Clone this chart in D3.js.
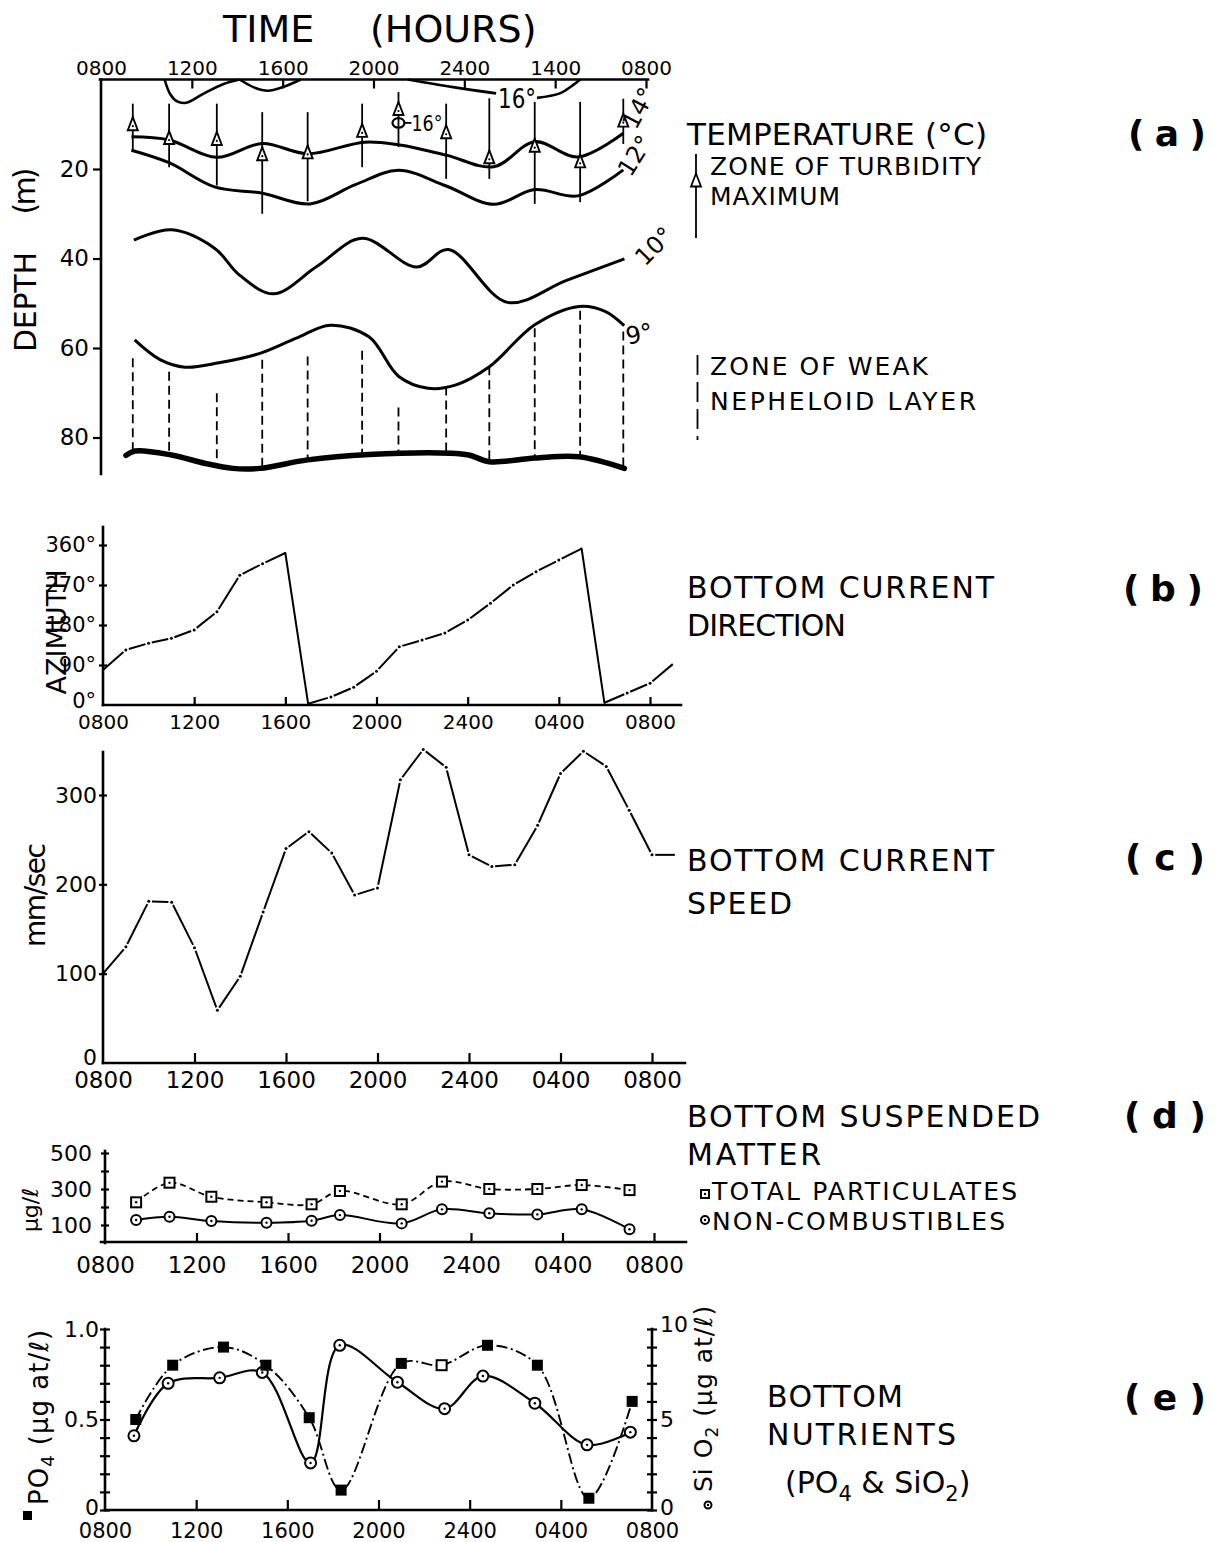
<!DOCTYPE html>
<html>
<head>
<meta charset="utf-8">
<title>Bottom water time series</title>
<script src="https://cdn.jsdelivr.net/npm/d3@7"></script>
<style>
  html, body { margin: 0; padding: 0; background: #fff; }
  svg { display: block; }
  svg text { font-family: "DejaVu Sans", sans-serif; fill: #000; }
</style>
</head>
<body>
<svg id="fig" width="1223" height="1542"></svg>
<script>
// ---------- shared time axis (hours after 0800 on the first day) ----------
const tickHours = [0, 4, 8, 12, 16, 20, 24];
const topTimeLabels = ["0800", "1200", "1600", "2000", "2400", "1400", "0800"];
const timeLabels = ["0800", "1200", "1600", "2000", "2400", "0400", "0800"];

// ---------- (a) temperature section, depth in metres ----------
const depthTicks = [20, 40, 60, 80];
const stationHours = [1.4, 3.0, 5.1, 7.1, 9.1, 11.5, 13.1, 15.2, 17.1, 19.1, 21.1, 23.0];
const turbidityTop = [5.6, 5.6, 5.6, 7.5, 7.5, 5.6, 3.0, 5.6, 4.4, 5.2, 5.2, 4.5];
const turbidityBottom = [15.7, 19.4, 23.5, 29.8, 27.0, 19.4, 14.9, 22.0, 22.0, 27.6, 27.2, 14.2];
const turbidityMax = [10.1, 13.2, 13.4, 16.8, 16.4, 11.6, 6.7, 11.9, 17.5, 14.9, 18.4, 9.3];
const nepheloidTop = [62.3, 65.3, 70.1, 62.6, 61.9, 60.6, 73.3, 68.6, 64.1, 55.6, 51.7, 56.3];
const lens16 = [13.1, 9.7];
const iso16a = [[2.8, 0], [3.05, 3.3], [3.35, 4.9], [3.75, 5.2], [4.5, 3.2], [5.4, 1.0], [6.1, 0]];
const iso16b = [[6.1, 0], [6.8, 1.9], [7.35, 2.5], [8.0, 1.7], [8.8, 0]];
const iso16c = [[13.5, 0], [15.5, 1.7], [17.4, 3.1]];
const iso16d = [[19.2, 4.1], [20.2, 3.1], [20.8, 1.2], [21.1, 0]];
const iso14 = [[1.34, 12.8], [3.0, 13.5], [5.1, 17.4], [7.1, 14.3], [9.1, 16.6], [11.6, 14.0], [13.1, 14.6], [15.2, 16.9], [17.3, 19.5], [19.1, 13.9], [21.0, 17.3], [23.0, 12.0]];
const iso12 = [[1.34, 15.8], [3.0, 18.6], [5.0, 24.0], [7.1, 25.4], [9.2, 27.8], [11.2, 23.5], [13.1, 20.3], [15.2, 23.8], [17.3, 27.9], [19.1, 24.6], [21.0, 26.0], [23.0, 20.2]];
const iso10 = [[1.45, 35.9], [3.1, 33.6], [5.0, 37.7], [6.1, 43.7], [7.6, 47.9], [9.5, 41.8], [11.5, 35.5], [13.9, 41.9], [15.3, 38.0], [17.9, 49.8], [20.5, 44.9], [23.05, 40.1]];
const iso9 = [[1.48, 58.2], [2.6, 62.6], [3.7, 64.3], [5.2, 63.3], [7.0, 61.2], [8.6, 57.8], [10.1, 54.9], [11.8, 57.5], [13.1, 66.3], [14.4, 69.0], [15.6, 68.3], [17.1, 64.2], [19.1, 54.8], [21.05, 50.7], [22.2, 51.8], [23.04, 55.0]];
const seafloor = [[1.1, 84.0], [1.5, 83.0], [3.1, 83.9], [4.6, 85.8], [5.8, 86.9], [7.0, 86.9], [9.1, 85.0], [11.8, 83.8], [15.4, 83.5], [16.2, 83.9], [17.1, 85.4], [19.1, 84.6], [21.05, 84.3], [23.05, 86.9]];

// ---------- (b) bottom current direction, degrees ----------
const azimuthTicks = [0, 90, 180, 270, 360];
const directionRun1 = [[0, 79], [1, 124], [2, 139], [3, 150], [4, 169], [5, 210], [6, 292], [7, 318], [8, 342]];
const directionRun2 = [[9, 3], [10, 18], [11, 40], [12, 76], [13, 131], [14, 146], [15, 162], [16, 191], [17, 229], [18, 270], [19, 300], [20, 326], [21, 352]];
const directionRun3 = [[22, 5], [23, 27], [24, 49], [25, 92]];

// ---------- (c) bottom current speed, mm/sec ----------
const speedTicks = [0, 100, 200, 300];
const speedHours = [0, 1, 2, 3, 4, 5, 6, 7, 8, 9, 10, 11, 12, 13, 14, 15, 16, 17, 18, 19, 20, 21, 22, 23, 24, 25];
const speedValues = [100, 130, 181, 180, 129, 59, 97, 169, 240, 259, 235, 188, 196, 317, 351, 331, 233, 220, 222, 266, 324, 349, 332, 283, 233, 233];

// ---------- (d) bottom suspended matter, µg/l ----------
const matterTicks = [100, 200, 300, 400, 500];
const matterHours = [1.36, 2.82, 4.65, 7.06, 9.03, 10.27, 12.97, 14.73, 16.8, 18.9, 20.84, 22.93];
const totalParticulates = [226, 335, 257, 226, 215, 289, 215, 341, 300, 300, 322, 294];
const nonCombustibles = [128, 146, 122, 113, 124, 155, 109, 187, 165, 159, 187, 76];

// ---------- (e) bottom nutrients ----------
const po4Hours = [1.35, 2.97, 5.2, 7.06, 8.96, 10.36, 13.0, 14.77, 16.78, 18.97, 21.23, 23.13];
const po4Values = [0.50, 0.80, 0.90, 0.80, 0.51, 0.11, 0.81, 0.80, 0.91, 0.80, 0.065, 0.60];
const po4Filled = [1, 1, 1, 1, 1, 1, 1, 0, 1, 1, 1, 1];
const sio2Hours = [1.27, 2.77, 5.03, 6.9, 9.02, 10.3, 12.83, 14.9, 16.58, 18.86, 21.15, 23.05];
const sio2Values = [4.1, 7.0, 7.3, 7.6, 2.6, 9.1, 7.06, 5.6, 7.4, 5.9, 3.6, 4.3];
const po4Ticks = [0, 0.1, 0.2, 0.3, 0.4, 0.5, 0.6, 0.7, 0.8, 0.9, 1.0];
const sio2Ticks = [0, 1, 2, 3, 4, 5, 6, 7, 8, 9, 10];

// ================= drawing helpers =================
const INK = "#000";
const svg = d3.select("#fig");

function rule(g, x1, y1, x2, y2, w = 2.5) {
  return g.append("line").attr("x1", x1).attr("y1", y1).attr("x2", x2).attr("y2", y2)
    .attr("stroke", INK).attr("stroke-width", w).attr("stroke-linecap", "square");
}
function label(g, x, y, str, size, o = {}) {
  const t = g.append("text").attr("x", x).attr("y", y).style("font-size", size + "px").text(str);
  if (o.len) t.attr("textLength", o.len).attr("lengthAdjust", o.adjust || "spacing");
  if (o.anchor) t.attr("text-anchor", o.anchor);
  if (o.bold) t.style("font-weight", "bold");
  return t;
}
function turned(g, x, y, angle, str, size, o = {}) {
  const t = g.append("text").attr("transform", `translate(${x},${y}) rotate(${angle})`)
    .attr("text-anchor", o.anchor || "middle").style("font-size", size + "px").text(str);
  if (o.len) t.attr("textLength", o.len).attr("lengthAdjust", "spacing");
  return t;
}
function fixAxis(sel, size) {
  sel.attr("font-family", null).attr("font-size", null);
  sel.select(".domain").remove();
  sel.selectAll(".tick line").attr("stroke", INK).attr("stroke-width", 2.2);
  sel.selectAll(".tick text").attr("fill", INK).style("font-size", size + "px");
}
function dropTickLine(sel, value) {
  sel.selectAll(".tick").filter(d => d === value).select("line").remove();
}
function shiftTickText(sel, value, dy) {
  sel.selectAll(".tick").filter(d => d === value).select("text").attr("dy", dy);
}
// dash–dot trace: a stroke between successive readings, broken around each reading, with a dot on it
function brokenTrace(g, pts, gap = 3.2) {
  for (let i = 0; i < pts.length - 1; i++) {
    const [x1, y1] = pts[i], [x2, y2] = pts[i + 1];
    const L = Math.hypot(x2 - x1, y2 - y1);
    if (L < 2 * gap + 1) continue;
    const ux = (x2 - x1) / L, uy = (y2 - y1) / L;
    const a = i === 0 ? 0 : gap;
    const b = i === pts.length - 2 ? 0 : gap;
    g.append("line").attr("x1", x1 + ux * a).attr("y1", y1 + uy * a)
      .attr("x2", x2 - ux * b).attr("y2", y2 - uy * b)
      .attr("stroke", INK).attr("stroke-width", 2).attr("stroke-linecap", "butt");
  }
  pts.slice(1, -1).forEach(p => g.append("circle").attr("cx", p[0]).attr("cy", p[1]).attr("r", 1.5).attr("fill", INK));
}
function openSquare(g, x, y, s, dot = true) {
  g.append("rect").attr("x", x - s / 2).attr("y", y - s / 2).attr("width", s).attr("height", s)
    .attr("fill", "#fff").attr("stroke", INK).attr("stroke-width", 2);
  if (dot) g.append("circle").attr("cx", x).attr("cy", y).attr("r", 1.2).attr("fill", INK);
}
function dotCircle(g, x, y, r) {
  g.append("circle").attr("cx", x).attr("cy", y).attr("r", r).attr("fill", "#fff").attr("stroke", INK).attr("stroke-width", 2);
  g.append("circle").attr("cx", x).attr("cy", y).attr("r", 1.2).attr("fill", INK);
}
const smooth = d3.curveCatmullRom.alpha(0.5);

// ================= (a) temperature section =================
const gA = svg.append("g");
const xA = d3.scaleLinear().domain([0, 24]).range([101, 646]);
const yA = d3.scaleLinear().domain([0, 80]).range([79.5, 437.5]);
const lineA = d3.line().x(d => xA(d[0])).y(d => yA(d[1])).curve(smooth);

label(gA, 223, 42, "TIME", 38);
label(gA, 370, 42, "(HOURS)", 38);

rule(gA, 100, 79.5, 648, 79.5, 2.6);
rule(gA, 101, 79.5, 101, 474, 2.6);
gA.append("g").attr("transform", "translate(0,79.5)")
  .call(d3.axisTop(xA).tickValues(tickHours).tickFormat((d, i) => topTimeLabels[i])
    .tickSizeInner(-9).tickSizeOuter(0).tickPadding(5))
  .call(fixAxis, 20).call(dropTickLine, 0);
gA.append("g").attr("transform", "translate(101,0)")
  .call(d3.axisLeft(yA).tickValues(depthTicks).tickSizeInner(8).tickSizeOuter(0).tickPadding(4))
  .call(fixAxis, 23);

turned(gA, 36, 302, -90, "DEPTH", 30, { len: 100 });
turned(gA, 35, 191, -90, "(m)", 30, { len: 47 });

// isotherms
[iso16a, iso16b, iso16c, iso16d].forEach(p =>
  gA.append("path").attr("d", lineA(p)).attr("fill", "none").attr("stroke", INK).attr("stroke-width", 2.6));
[iso14, iso12, iso10, iso9].forEach(p =>
  gA.append("path").attr("d", lineA(p)).attr("fill", "none").attr("stroke", INK)
    .attr("stroke-width", 3).attr("stroke-linejoin", "round"));
gA.append("path").attr("d", lineA(seafloor)).attr("fill", "none").attr("stroke", INK)
  .attr("stroke-width", 5.5).attr("stroke-linecap", "round");

// weak nepheloid layer: dashed verticals down to the sea floor
const floorAt = d3.scaleLinear().domain(seafloor.map(p => p[0])).range(seafloor.map(p => p[1]));
stationHours.forEach((h, i) => {
  gA.append("line").attr("x1", xA(h)).attr("x2", xA(h))
    .attr("y1", yA(nepheloidTop[i])).attr("y2", yA(floorAt(h)))
    .attr("stroke", INK).attr("stroke-width", 1.8).attr("stroke-dasharray", "9,5");
});

// zone of turbidity maximum
stationHours.forEach((h, i) => rule(gA, xA(h), yA(turbidityTop[i]), xA(h), yA(turbidityBottom[i]), 1.8));
gA.append("ellipse").attr("cx", xA(lens16[0])).attr("cy", yA(lens16[1])).attr("rx", 6).attr("ry", 4.8)
  .attr("fill", "none").attr("stroke", INK).attr("stroke-width", 2.2);
rule(gA, xA(lens16[0]) + 6, yA(lens16[1]), xA(lens16[0]) + 12, yA(lens16[1]), 1.8);
label(gA, xA(lens16[0]) + 13, yA(lens16[1]) + 8, "16°", 22, { len: 31, adjust: "spacingAndGlyphs" });

const triPath = "M0,-7.5 L5,5.5 L-5,5.5 Z";
stationHours.forEach((h, i) => {
  const x = xA(h), y = yA(turbidityMax[i]);
  gA.append("path").attr("d", triPath).attr("transform", `translate(${x},${y})`)
    .attr("fill", "#fff").attr("stroke", INK).attr("stroke-width", 1.9).attr("stroke-linejoin", "miter");
  gA.append("circle").attr("cx", x).attr("cy", y + 1.5).attr("r", 1.1).attr("fill", INK);
});

// isotherm labels
label(gA, 498, 108, "16°", 26, { len: 38, adjust: "spacingAndGlyphs" });
turned(gA, 646, 112, -62, "14°", 24);
turned(gA, 642, 160, -58, "12°", 24);
turned(gA, 660, 252, -45, "10°", 24);
turned(gA, 641, 342, -12, "9°", 24);

// legend for (a)
const gL = svg.append("g");
label(gL, 687, 145, "TEMPERATURE (°C)", 31, { len: 300 });
rule(gL, 696, 155, 696, 237, 1.8);
gL.append("path").attr("d", triPath).attr("transform", "translate(696,181)")
  .attr("fill", "#fff").attr("stroke", INK).attr("stroke-width", 1.8);
label(gL, 710, 175, "ZONE OF TURBIDITY", 25, { len: 271 });
label(gL, 710, 205, "MAXIMUM", 25, { len: 130 });
gL.append("line").attr("x1", 697.5).attr("x2", 697.5).attr("y1", 355).attr("y2", 440)
  .attr("stroke", INK).attr("stroke-width", 1.8).attr("stroke-dasharray", "20,7");
label(gL, 710, 375, "ZONE OF WEAK", 25, { len: 218 });
label(gL, 710, 410, "NEPHELOID LAYER", 25, { len: 266 });
label(gL, 1128, 146, "( a )", 36, { len: 78, bold: true });

// ================= (b) bottom current direction =================
const gB = svg.append("g");
const xB = d3.scaleLinear().domain([0, 24]).range([103, 650]);
const yB = d3.scaleLinear().domain([0, 360]).range([705, 545]);
rule(gB, 103, 527, 103, 705, 2.6);
rule(gB, 103, 705, 681, 705, 2.6);
gB.append("g").attr("transform", "translate(0,705)")
  .call(d3.axisBottom(xB).tickValues(tickHours).tickFormat((d, i) => timeLabels[i])
    .tickSizeInner(-8).tickSizeOuter(0).tickPadding(10))
  .call(fixAxis, 20).call(dropTickLine, 0);
gB.append("g").attr("transform", "translate(103,0)")
  .call(d3.axisLeft(yB).tickValues(azimuthTicks).tickFormat(d => d + "°")
    .tickSizeInner(4).tickSizeOuter(0).tickPadding(3))
  .call(fixAxis, 21).call(dropTickLine, 0).call(shiftTickText, 0, "0.12em")
  .call(s => s.selectAll(".tick line").attr("x1", 4));
turned(gB, 66, 632, -90, "AZIMUTH", 27, { len: 125 });

const ptsB = run => run.map(d => [xB(d[0]), yB(d[1])]);
brokenTrace(gB, ptsB(directionRun1));
brokenTrace(gB, ptsB(directionRun2));
brokenTrace(gB, ptsB(directionRun3));
// wrap-around from north back through 0°
[[directionRun1, directionRun2], [directionRun2, directionRun3]].forEach(([a, b]) => {
  const p = a[a.length - 1], q = b[0];
  rule(gB, xB(p[0]), yB(p[1]), xB(q[0]), yB(q[1]), 2).attr("stroke-linecap", "round");
});
label(svg, 687, 598, "BOTTOM CURRENT", 30, { len: 307 });
label(svg, 687, 636, "DIRECTION", 30, { len: 159 });
label(svg, 1123, 601, "( b )", 36, { len: 80, bold: true });

// ================= (c) bottom current speed =================
const gC = svg.append("g");
const xC = d3.scaleLinear().domain([0, 24]).range([103, 652]);
const yC = d3.scaleLinear().domain([0, 300]).range([1063, 795]);
rule(gC, 103, 752, 103, 1063, 2.6);
rule(gC, 103, 1063, 685, 1063, 2.6);
gC.append("g").attr("transform", "translate(0,1063)")
  .call(d3.axisBottom(xC).tickValues(tickHours).tickFormat((d, i) => timeLabels[i])
    .tickSizeInner(-10).tickSizeOuter(0).tickPadding(9))
  .call(fixAxis, 23).call(dropTickLine, 0);
gC.append("g").attr("transform", "translate(103,0)")
  .call(d3.axisLeft(yC).tickValues(speedTicks).tickSizeInner(4).tickSizeOuter(0).tickPadding(2))
  .call(fixAxis, 22).call(dropTickLine, 0).call(shiftTickText, 0, "0.05em")
  .call(s => s.selectAll(".tick line").attr("x1", 4));
turned(gC, 45, 895, -90, "mm/sec", 28, { len: 104 });
brokenTrace(gC, speedHours.map((h, i) => [xC(h), yC(speedValues[i])]));
label(svg, 687, 871, "BOTTOM CURRENT", 30, { len: 307 });
label(svg, 687, 914, "SPEED", 30, { len: 105 });
label(svg, 1125, 870, "( c )", 36, { len: 80, bold: true });

// ================= (d) bottom suspended matter =================
const gD = svg.append("g");
const xD = d3.scaleLinear().domain([0, 24]).range([105, 654]);
const yD = d3.scaleLinear().domain([0, 500]).range([1243, 1153]);
rule(gD, 105, 1151, 105, 1243, 2.6);
rule(gD, 101, 1242, 686, 1242, 2.6);
gD.append("g").attr("transform", "translate(0,1242)")
  .call(d3.axisBottom(xD).tickValues(tickHours).tickFormat((d, i) => timeLabels[i])
    .tickSizeInner(-9).tickSizeOuter(0).tickPadding(15))
  .call(fixAxis, 23).call(dropTickLine, 0);
gD.append("g").attr("transform", "translate(105,0)")
  .call(d3.axisLeft(yD).tickValues(matterTicks).tickFormat(d => (d % 200 === 100 ? d : ""))
    .tickSizeInner(4).tickSizeOuter(0).tickPadding(9))
  .call(fixAxis, 22)
  .call(s => s.selectAll(".tick line").attr("x1", 4));
turned(gD, 38, 1210, -90, "μg/ℓ", 22, { len: 44 });

const lineD = d3.line().x(d => xD(d[0])).y(d => yD(d[1])).curve(smooth);
const totalPts = matterHours.map((h, i) => [h, totalParticulates[i]]);
const nonCombPts = matterHours.map((h, i) => [h, nonCombustibles[i]]);
gD.append("path").attr("d", lineD(totalPts)).attr("fill", "none").attr("stroke", INK)
  .attr("stroke-width", 1.8).attr("stroke-dasharray", "6,4");
gD.append("path").attr("d", lineD(nonCombPts)).attr("fill", "none").attr("stroke", INK).attr("stroke-width", 2);
totalPts.forEach(p => openSquare(gD, xD(p[0]), yD(p[1]), 10));
nonCombPts.forEach(p => dotCircle(gD, xD(p[0]), yD(p[1]), 5));

label(svg, 687, 1127, "BOTTOM SUSPENDED", 30, { len: 353 });
label(svg, 687, 1165, "MATTER", 30, { len: 134 });
openSquare(svg, 705, 1194, 8);
label(svg, 712, 1200, "TOTAL PARTICULATES", 25, { len: 305 });
dotCircle(svg, 705, 1220, 4);
label(svg, 712, 1230, "NON-COMBUSTIBLES", 25, { len: 293 });
label(svg, 1124, 1128, "( d )", 36, { len: 82, bold: true });

// ================= (e) bottom nutrients =================
const gE = svg.append("g");
const xE = d3.scaleLinear().domain([0, 24]).range([105, 652]);
const yE = d3.scaleLinear().domain([0, 1]).range([1510, 1329]);
const yE2 = d3.scaleLinear().domain([0, 10]).range([1510, 1329]);
rule(gE, 105, 1329, 105, 1510, 2.6);
rule(gE, 652, 1329, 652, 1510, 2.6);
rule(gE, 105, 1510, 652, 1510, 2.6);
gE.append("g").attr("transform", "translate(0,1510)")
  .call(d3.axisBottom(xE).tickValues(tickHours).tickFormat((d, i) => timeLabels[i])
    .tickSizeInner(-10).tickSizeOuter(0).tickPadding(13))
  .call(fixAxis, 21).call(dropTickLine, 0).call(dropTickLine, 24);
gE.append("g").attr("transform", "translate(105,0)")
  .call(d3.axisLeft(yE).tickValues(po4Ticks)
    .tickFormat(d => (d === 0 ? "0" : Math.abs(d - 0.5) < 1e-9 ? "0.5" : d === 1 ? "1.0" : ""))
    .tickSizeInner(5).tickSizeOuter(0).tickPadding(1))
  .call(fixAxis, 22).call(shiftTickText, 0, "0.2em")
  .call(s => s.selectAll(".tick line").attr("x1", 5));
gE.append("g").attr("transform", "translate(652,0)")
  .call(d3.axisRight(yE2).tickValues(sio2Ticks).tickFormat(d => (d % 5 === 0 ? d : ""))
    .tickSizeInner(5).tickSizeOuter(0).tickPadding(3))
  .call(fixAxis, 22).call(shiftTickText, 0, "0.2em").call(shiftTickText, 10, "0.1em")
  .call(s => s.selectAll(".tick line").attr("x1", -5));

// axis titles with their marker keys
gE.append("rect").attr("x", 23).attr("y", 1511).attr("width", 9).attr("height", 9).attr("fill", INK);
const po4Title = gE.append("text").attr("transform", "translate(48,1505) rotate(-90)")
  .style("font-size", "26px").style("letter-spacing", "1px");
po4Title.append("tspan").text("PO");
po4Title.append("tspan").text("4").style("font-size", "18px").attr("dy", 6);
po4Title.append("tspan").text(" (μg at/ℓ)").attr("dy", -6);
dotCircle(gE, 708, 1505, 3.5);
const sioTitle = gE.append("text").attr("transform", "translate(712,1492) rotate(-90)")
  .style("font-size", "25px").style("letter-spacing", "1px");
sioTitle.append("tspan").text("Si O");
sioTitle.append("tspan").text("2").style("font-size", "17px").attr("dy", 6);
sioTitle.append("tspan").text(" (μg at/ℓ)").attr("dy", -6);

const sioPts = sio2Hours.map((h, i) => [xE(h), yE2(sio2Values[i])]);
const po4Pts = po4Hours.map((h, i) => [xE(h), yE(po4Values[i])]);
const lineE = d3.line().curve(smooth);
gE.append("path").attr("d", lineE(po4Pts)).attr("fill", "none").attr("stroke", INK)
  .attr("stroke-width", 1.9).attr("stroke-dasharray", "11,3.5,2,3.5");
gE.append("path").attr("d", lineE(sioPts)).attr("fill", "none").attr("stroke", INK).attr("stroke-width", 2.2);
sioPts.forEach(p => dotCircle(gE, p[0], p[1], 5.5));
po4Pts.forEach((p, i) => {
  if (po4Filled[i]) {
    gE.append("rect").attr("x", p[0] - 5.5).attr("y", p[1] - 5.5).attr("width", 11).attr("height", 11).attr("fill", INK);
  } else {
    openSquare(gE, p[0], p[1], 10, false);
  }
});

label(svg, 767, 1407, "BOTTOM", 30, { len: 136 });
label(svg, 767, 1445, "NUTRIENTS", 30, { len: 189 });
const nut = svg.append("text").attr("x", 785).attr("y", 1493).style("font-size", "30px");
nut.append("tspan").text("(PO");
nut.append("tspan").text("4").style("font-size", "21px").attr("dy", 8);
nut.append("tspan").text(" & SiO").attr("dy", -8);
nut.append("tspan").text("2").style("font-size", "21px").attr("dy", 8);
nut.append("tspan").text(")").attr("dy", -8);
label(svg, 1124, 1410, "( e )", 36, { len: 82, bold: true });
</script>
</body>
</html>
